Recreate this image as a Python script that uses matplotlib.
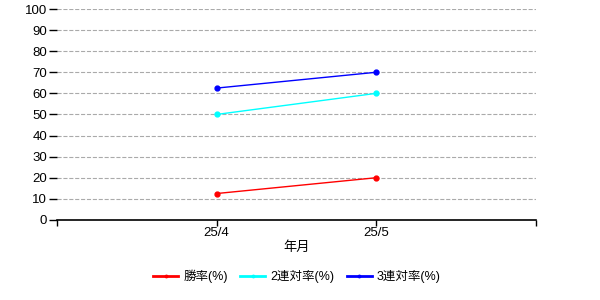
import matplotlib.pyplot as plt

plt.rcParams['font.family'] = ['Liberation Sans', 'Noto Sans CJK JP', 'DejaVu Sans']

# data
months = ["25/4", "25/5"]
win = [12.5, 20]
place2 = [50, 60]
place3 = [62.5, 70]
labels = ["勝率(%)", "2連対率(%)", "3連対率(%)"]
colors = ["#ff0000", "#00ffff", "#0000ff"]

fig = plt.figure(figsize=(6, 3), dpi=100)
ax = fig.add_axes([0.095, 0.267, 0.798, 0.703])

xs = [1, 2]
for ys, lab, c in zip([win, place2, place3], labels, colors):
    ax.plot(xs, ys, color=c, lw=1, marker='o', ms=3.5, label=lab)

ax.set_xlim(0, 3)
ax.set_ylim(0, 100)
ax.set_xticks([0, 1, 2, 3])
ax.set_xticklabels(["", months[0], months[1], ""])
ax.set_yticks(range(0, 101, 10))
ax.grid(axis='y', color='#aaaaaa', ls='--', lw=0.8)
ax.set_axisbelow(True)
for s in ['top', 'right', 'left']:
    ax.spines[s].set_visible(False)
ax.spines['bottom'].set_linewidth(1.2)
ax.tick_params(axis='both', labelsize=9.5, width=1, pad=1)
ax.tick_params(axis='y', length=6)
ax.tick_params(axis='x', length=4)
ax.set_xlabel("年月", fontsize=9.5, labelpad=2)

leg = fig.legend(loc='center', bbox_to_anchor=(0.495, 0.078), ncol=3, frameon=False,
                 fontsize=9, handlelength=2.0, handletextpad=0.4,
                 columnspacing=1.0, markerscale=0.5)
for h in leg.get_lines():
    h.set_linewidth(2)

fig.savefig('out.png')
